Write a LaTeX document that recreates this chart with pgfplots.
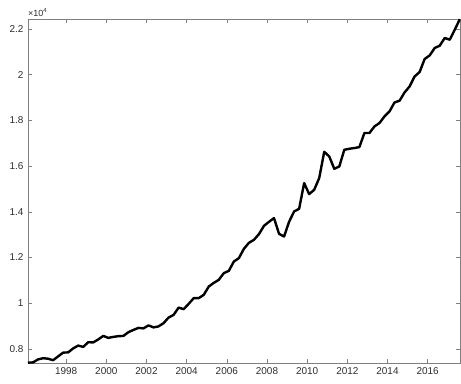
\documentclass[border=0pt]{standalone}
\usepackage{pgfplots}
\pgfplotsset{compat=1.18}
\usepackage{fontspec}
\setmainfont{Liberation Sans}
\definecolor{axisgray}{RGB}{128,128,128}
\definecolor{labelgray}{RGB}{45,45,45}

\begin{document}
\begin{tikzpicture}
\begin{axis}[
  at={(0,0)}, anchor=origin,
  scale only axis,
  width=432bp, height=344bp,
  xmin=1996.1, xmax=2017.6,
  ymin=7390, ymax=22440,
  xtick={1998,2000,...,2016},
  ytick={8000,10000,12000,14000,16000,18000,20000,22000},
  scaled y ticks=base 10:-4,
  ytick scale label code/.code={},
  /pgf/number format/1000 sep={},
  /pgf/number format/assume math mode=true,
  tick align=inside,
  major tick length=4bp,
  axis line style={axisgray, line width=0.6bp},
  every tick/.style={axisgray, line width=0.6bp},
  tick label style={font=\fontsize{10}{12}\selectfont, text=labelgray},
  xticklabel style={yshift=-1bp},
  yticklabel style={xshift=-1bp},
  clip=false,
]
\addplot[black, line width=2.4bp, line join=round] table {
x y
1996.10 7400
1996.35 7409
1996.60 7540
1996.85 7593
1997.10 7571
1997.35 7505
1997.60 7672
1997.85 7838
1998.10 7847
1998.35 8022
1998.60 8145
1998.85 8088
1999.10 8293
1999.35 8285
1999.60 8416
1999.85 8569
2000.10 8482
2000.35 8526
2000.60 8556
2000.85 8569
2001.10 8731
2001.35 8832
2001.60 8920
2001.85 8898
2002.10 9029
2002.35 8942
2002.60 8986
2002.85 9126
2003.10 9371
2003.35 9489
2003.60 9809
2003.85 9739
2004.10 9971
2004.35 10221
2004.60 10221
2004.85 10365
2005.10 10729
2005.35 10891
2005.60 11022
2005.85 11316
2006.10 11416
2006.35 11824
2006.60 11973
2006.85 12380
2007.10 12643
2007.35 12774
2007.60 13024
2007.85 13387
2008.10 13563
2008.35 13725
2008.60 13037
2008.85 12919
2009.10 13563
2009.35 14014
2009.60 14132
2009.85 15258
2010.10 14776
2010.35 14964
2010.60 15477
2010.85 16629
2011.10 16423
2011.35 15884
2011.60 15985
2011.85 16716
2012.10 16760
2012.35 16791
2012.60 16834
2012.85 17448
2013.10 17448
2013.35 17737
2013.60 17886
2013.85 18175
2014.10 18394
2014.35 18788
2014.60 18862
2014.85 19226
2015.10 19487
2015.35 19925
2015.60 20119
2015.85 20689
2016.10 20846
2016.35 21171
2016.60 21271
2016.85 21609
2017.10 21534
2017.35 21972
2017.60 22432
};
\end{axis}
% power-of-ten factor above the y axis
\node[anchor=base west, inner sep=0pt, text=labelgray,
      font=\fontsize{9}{10}\selectfont] at (0bp,346.5bp)
      {\char"00D7 10\textsuperscript{4}};
\path[use as bounding box] (-28bp,-21bp) rectangle (433bp,363bp);
\end{tikzpicture}
\end{document}
